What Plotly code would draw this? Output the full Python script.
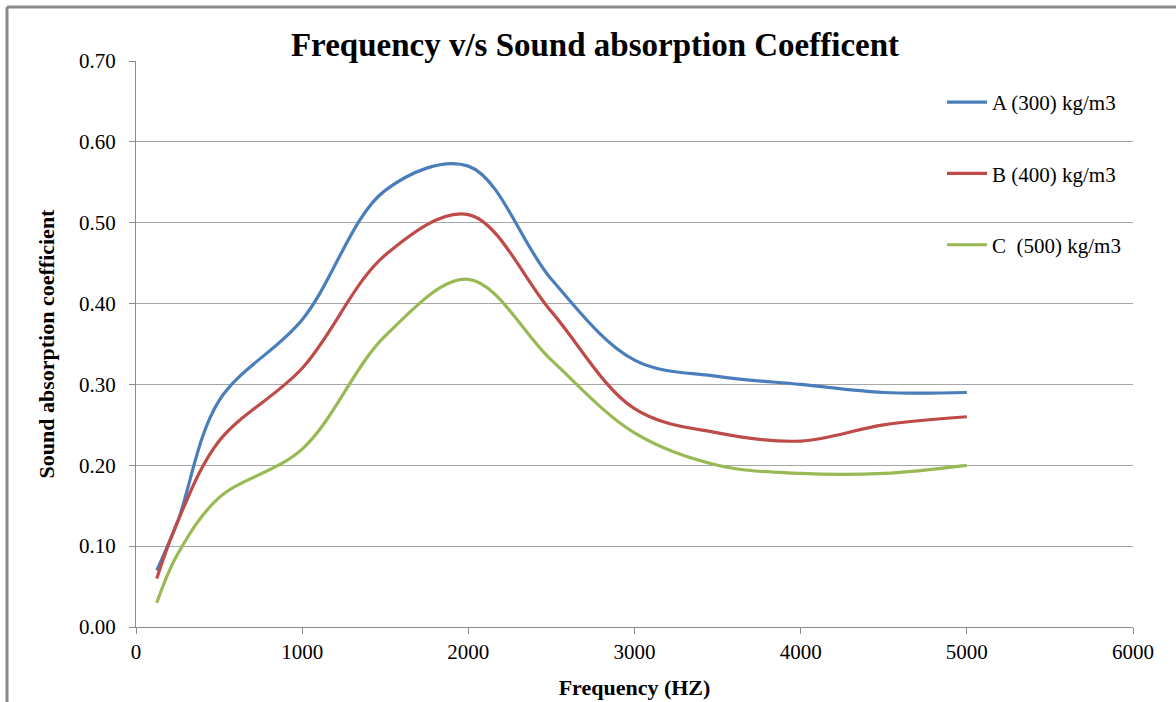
import plotly.graph_objects as go

freq = [125, 250, 500, 1000, 1500, 2000, 2500, 3000, 3500, 4000, 4500, 5000]
series_a = [0.07, 0.13, 0.28, 0.38, 0.54, 0.57, 0.43, 0.33, 0.31, 0.30, 0.29, 0.29]
series_b = [0.06, 0.13, 0.23, 0.32, 0.46, 0.51, 0.39, 0.27, 0.24, 0.23, 0.25, 0.26]
series_c = [0.03, 0.09, 0.16, 0.22, 0.36, 0.43, 0.33, 0.24, 0.20, 0.19, 0.19, 0.20]
names = ["A (300) kg/m3", "B (400) kg/m3", "C  (500) kg/m3"]
colors = ["#4a7ebb", "#be4b48", "#98b954"]

W, H = 1176, 702
L, R, T, B = 136, 43, 61, 75
pw, ph = W - L - R, H - T - B

def px2x(px):
    return (px - L) / pw

def py2y(py):
    return (H - B - py) / ph

font = "Liberation Serif, Times New Roman, serif"

fig = go.Figure()
for i, (vals, nm, col) in enumerate(zip([series_a, series_b, series_c], names, colors)):
    fig.add_trace(go.Scatter(
        x=freq, y=vals, name=nm, mode="lines",
        line=dict(color=col, width=3.2, shape="spline", smoothing=1.0),
        legendgroup=f"g{i}",
    ))

fig.update_layout(
    width=W, height=H,
    margin=dict(l=L, r=R, t=T, b=B),
    paper_bgcolor="white", plot_bgcolor="white",
    font=dict(family=font, size=21, color="black"),
    title=dict(text="<b>Frequency v/s Sound absorption Coefficent</b>",
               x=595 / W, xref="container", xanchor="center",
               y=1 - 44 / H, yref="container", yanchor="middle",
               font=dict(size=33, family=font, color="black")),
    showlegend=True,
    legend=dict(x=px2x(942), y=py2y(82), xanchor="left", yanchor="top",
                bgcolor="rgba(0,0,0,0)", tracegroupgap=41,
                font=dict(size=21, family=font), itemwidth=40,
                traceorder="grouped"),
    xaxis=dict(range=[0, 6000], dtick=1000, tick0=0, showgrid=False,
               showline=True, linecolor="#8c8c8c", linewidth=1,
               ticks="outside", ticklen=6, tickcolor="#8c8c8c",
               zeroline=False, tickfont=dict(size=21), automargin=False,
               title=dict(text="<b>Frequency (HZ)</b>", standoff=16,
                          font=dict(size=22, family=font))),
    yaxis=dict(range=[0, 0.7], dtick=0.1, tick0=0, tickformat=".2f",
               showgrid=True, gridcolor="#a6a6a6", gridwidth=1,
               showline=True, linecolor="#8c8c8c", linewidth=1,
               ticks="outside", ticklen=6, tickcolor="#8c8c8c",
               zeroline=False, tickfont=dict(size=21), ticklabelstandoff=9,
               automargin=False,
               title=dict(text="<b>Sound absorption coefficient</b>", standoff=18,
                          font=dict(size=22, family=font))),
)

# outer chart border (top and left edges visible)
fig.add_shape(type="line", xref="paper", yref="paper",
              x0=px2x(7), x1=px2x(W + 5), y0=py2y(7), y1=py2y(7),
              line=dict(color="#8a8a8a", width=3))
fig.add_shape(type="line", xref="paper", yref="paper",
              x0=px2x(7), x1=px2x(7), y0=py2y(7), y1=py2y(H + 5),
              line=dict(color="#8a8a8a", width=3))

fig.write_html("out.html")
